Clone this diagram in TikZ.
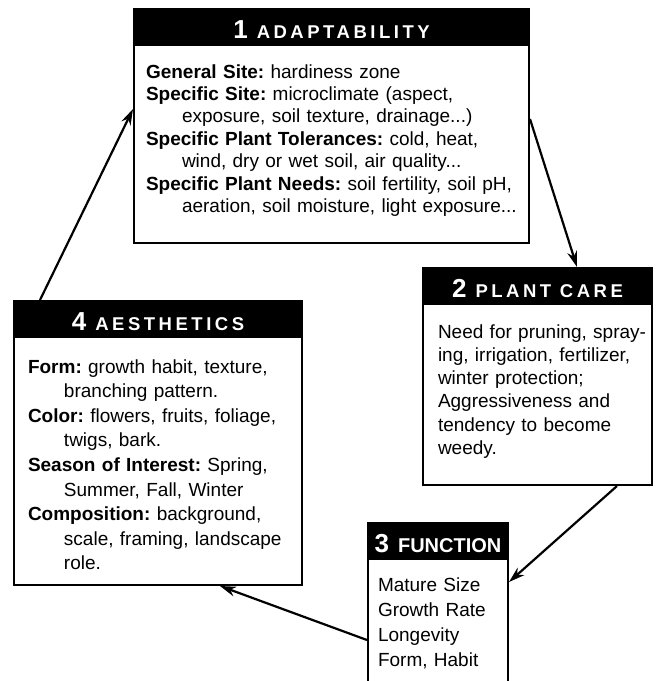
\documentclass[tikz,border=0pt]{standalone}
\usepackage{fontspec}
\setmainfont{Liberation Sans}
\newfontfamily\spacedfont[LetterSpace=19]{Liberation Sans}
\usetikzlibrary{positioning}
\usetikzlibrary{arrows.meta}

\begin{document}
\begin{tikzpicture}[x=1pt, y=-1pt]

\def\TitleHeight{34pt}
\def\Indent{\hspace*{36pt}}
\def\Num#1{{\fontsize{26}{26}\selectfont #1}\hspace{9pt}}

% Styles
\tikzstyle{title} =
	[fill=black, draw=black, line width=2pt, text=white, inner sep=0pt,
	 minimum height=\TitleHeight, text height=24pt, text depth=0pt,
	 anchor=north west, font=\bfseries\fontsize{18.5}{18.5}\selectfont]

\tikzstyle{panel} =
	[draw=black, line width=2pt, inner sep=0pt, align=left]

\tikzstyle{flow} =
	[-{Stealth[length=16pt, width=10pt]}, line width=2.2pt]

\useasboundingbox (0, 0) rectangle (660, 681);

% Boxes

\node (AdaptabilityTitle) at (133, 8) [title, minimum width=395pt]
	{\Num{1}{\spacedfont ADAPTABILITY}};
\node (Adaptability) [panel, below=0pt of AdaptabilityTitle, text width=395pt,
	text height=33pt, text depth=165pt,
	font=\fontsize{19}{22.4}\selectfont\frenchspacing]
	{\leftskip=12pt\relax
	\textbf{General Site:} hardiness zone\\
	\textbf{Specific Site:} microclimate (aspect,\\
	\Indent exposure, soil texture, drainage...)\\
	\textbf{Specific Plant Tolerances:} cold, heat,\\
	\Indent wind, dry or wet soil, air quality...\\
	\textbf{Specific Plant Needs:} soil fertility, soil pH,\\
	\Indent aeration, soil moisture, light exposure...\par};

\node (PlantCareTitle) at (422, 267) [title, minimum width=229pt]
	{\Num{2}{\spacedfont PLANT CARE}};
\node (PlantCare) [panel, below=0pt of PlantCareTitle, text width=229pt,
	text height=34pt, text depth=147pt,
	font=\fontsize{19}{23.3}\selectfont\frenchspacing]
	{\leftskip=15pt\relax
	Need for pruning, spray-\\
	ing, irrigation, fertilizer,\\
	winter protection;\\
	Aggressiveness and\\
	tendency to become\\
	weedy.\par};

\node (FunctionTitle) at (367, 522) [title, minimum width=140pt]
	{\Num{3}{\fontsize{20}{20}\selectfont FUNCTION}};
\node (Function) [panel, below=0pt of FunctionTitle, text width=140pt,
	text height=32pt, text depth=130pt,
	font=\fontsize{19}{25}\selectfont\frenchspacing]
	{\leftskip=10pt\relax
	Mature Size\\
	Growth Rate\\
	Longevity\\
	Form, Habit\par};

\node (AestheticsTitle) at (13, 300) [title, minimum width=288pt]
	{\Num{4}{\spacedfont AESTHETICS}};
\node (Aesthetics) [panel, below=0pt of AestheticsTitle, text width=288pt,
	text height=36pt, text depth=212pt,
	font=\fontsize{19}{24.6}\selectfont\frenchspacing]
	{\leftskip=14pt\relax
	\textbf{Form:} growth habit, texture,\\
	\Indent branching pattern.\\
	\textbf{Color:} flowers, fruits, foliage,\\
	\Indent twigs, bark.\\
	\textbf{Season of Interest:} Spring,\\
	\Indent Summer, Fall, Winter\\
	\textbf{Composition:} background,\\
	\Indent scale, framing, landscape\\
	\Indent role.\par};

% Arrows

\draw[flow] ([yshift=-75pt]Adaptability.north east)
	-- ([xshift=155pt]PlantCareTitle.north west);
\draw[flow] ([xshift=195pt]PlantCare.south west)
	-- ([yshift=-24pt]Function.north east);
\draw[flow] ([yshift=-82pt]Function.north west)
	-- ([xshift=207pt]Aesthetics.south west);
\draw[flow] ([xshift=27pt]AestheticsTitle.north west)
	-- ([yshift=-65pt]Adaptability.north west);

\end{tikzpicture}
\end{document}
